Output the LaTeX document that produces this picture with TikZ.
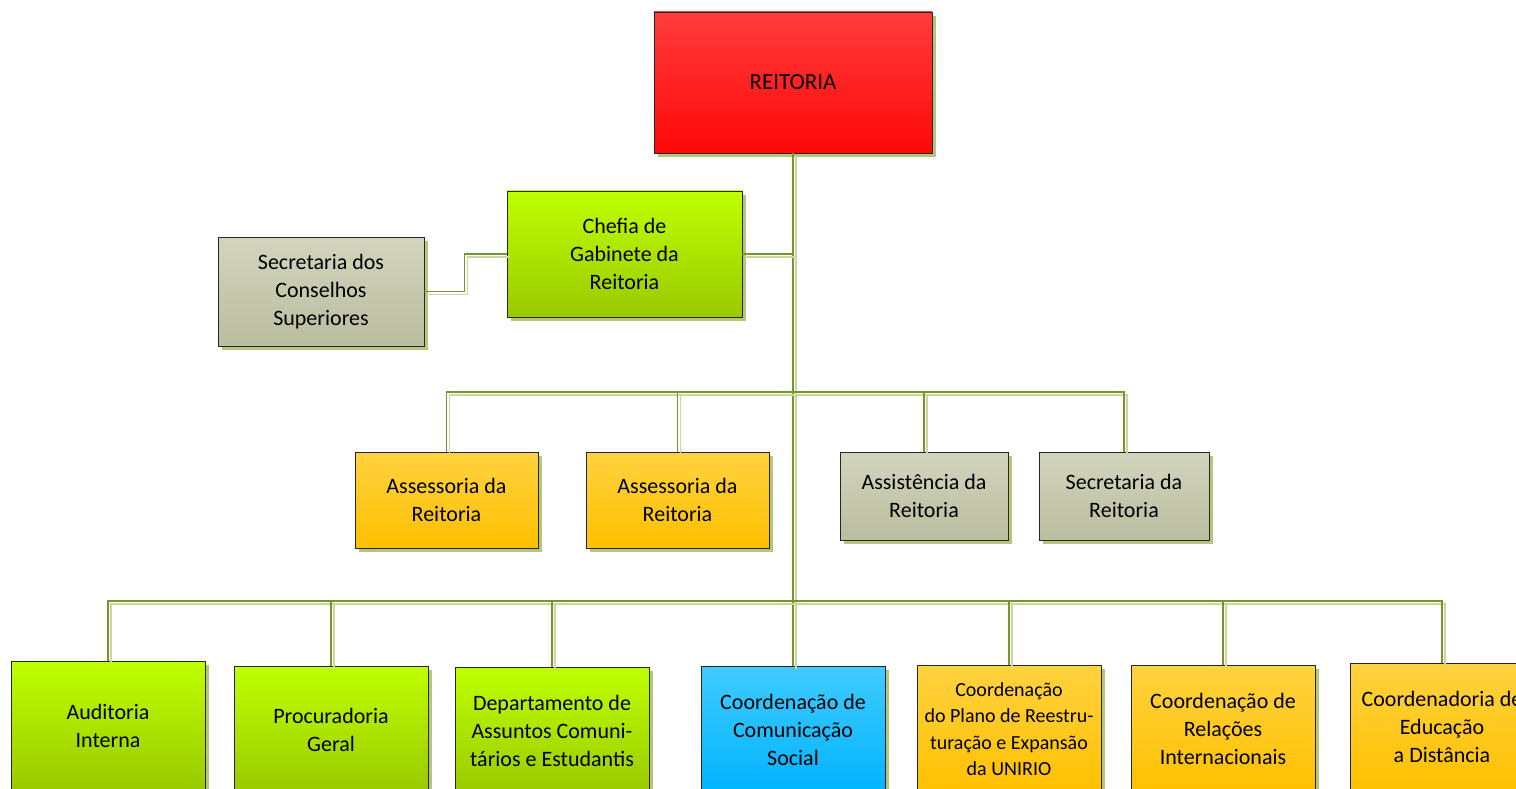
\documentclass[tikz,border=0pt]{standalone}
\usepackage{fontspec}
\setmainfont{Carlito}
\usetikzlibrary{shadows,calc}
\definecolor{redT}{HTML}{FF3C3C}
\definecolor{redB}{HTML}{FF0808}
\definecolor{limeT}{HTML}{BFFF00}
\definecolor{limeB}{HTML}{99C900}
\definecolor{goldT}{HTML}{FFD23F}
\definecolor{goldB}{HTML}{FFC000}
\definecolor{grayT}{HTML}{D2D4BE}
\definecolor{grayB}{HTML}{BBBD9F}
\definecolor{blueT}{HTML}{40CBFF}
\definecolor{blueB}{HTML}{00B3FF}
\definecolor{shadowc}{HTML}{B5C67C}
\definecolor{darkln}{HTML}{76962A}
\definecolor{lightln}{HTML}{C8D9A0}
\newcommand\dconn[1]{\draw[lightline, transform canvas={xshift=3pt,yshift=-3pt}] #1; \draw[darkline] #1;}
\begin{document}
\begin{tikzpicture}[x=1pt,y=-1pt,
  box/.style={rectangle, draw=black!85, line width=0.8pt, align=center,
    inner sep=0pt, font=\fontsize{22}{28}\selectfont,
    drop shadow={shadow xshift=4pt, shadow yshift=-4pt, fill=shadowc, opacity=1}},
  redbox/.style={box, top color=redT, bottom color=redB},
  limebox/.style={box, top color=limeT, bottom color=limeB},
  goldbox/.style={box, top color=goldT, bottom color=goldB},
  graybox/.style={box, top color=grayT, bottom color=grayB},
  bluebox/.style={box, top color=blueT, bottom color=blueB},
  darkline/.style={draw=darkln, line width=1.1pt},
  lightline/.style={draw=lightln, line width=1.6pt}]
\clip (0,0) rectangle (1516,789);
\fill[white] (0,0) rectangle (1516,789);
% top
\node[redbox, minimum width=278pt, minimum height=141pt, font=\fontsize{23}{28}\selectfont] (reit) at (793,82.5) {REITORIA};
\node[limebox, minimum width=235pt, minimum height=126pt] (chef) at (624.5,254) {Chefia de\\Gabinete da\\Reitoria};
\node[graybox, minimum width=206pt, minimum height=109pt] (cons) at (321,291.5) {Secretaria dos\\Conselhos\\Superiores};
% middle row
\node[goldbox, minimum width=183pt, minimum height=96pt] (ass1) at (446.5,500) {Assessoria da\\Reitoria};
\node[goldbox, minimum width=183pt, minimum height=96pt] (ass2) at (677.5,500) {Assessoria da\\Reitoria};
\node[graybox, minimum width=168pt, minimum height=88pt] (asst) at (924,496) {Assistência da\\Reitoria};
\node[graybox, minimum width=170pt, minimum height=88pt] (secr) at (1124,496) {Secretaria da\\Reitoria};
% bottom row
\node[limebox, minimum width=194pt, minimum height=130pt] (aud) at (108,726) {Auditoria\\Interna};
\node[limebox, minimum width=194pt, minimum height=128pt] (proc) at (331,730) {Procuradoria\\Geral};
\node[limebox, minimum width=194pt, minimum height=128pt] (dept) at (552,731) {Departamento de\\Assuntos Comuni-\\tários e Estudantis};
\node[bluebox, minimum width=184pt, minimum height=128pt] (comm) at (793,730) {Coordenação de\\Comunicação\\Social};
\node[goldbox, minimum width=184pt, minimum height=128pt, font=\fontsize{20}{26.3}\selectfont] (plano) at (1009,729) {Coordenação\\do Plano de Reestru-\\turação e Expansão\\da UNIRIO};
\node[goldbox, minimum width=184pt, minimum height=128pt] (rel) at (1223,729) {Coordenação de\\Relações\\Internacionais};
\node[goldbox, minimum width=184pt, minimum height=128pt] (ead) at (1442,727) {Coordenadoria de\\Educação\\a Distância};
% bus coordinates
\coordinate (mb) at (793,392);
\coordinate (bb) at (793,601);
% connectors
\dconn{(reit.south) -- (comm.north)}
\dconn{(chef.east) -- (chef.east -| reit.south)}
\dconn{(chef.west) -- ++(-42,0) |- (cons.east)}
\dconn{(ass1.north) -- (ass1.north |- mb) -- (secr.north |- mb) -- (secr.north)}
\dconn{(ass2.north) -- (ass2.north |- mb)}
\dconn{(asst.north) -- (asst.north |- mb)}
\dconn{(aud.north) -- (aud.north |- bb) -- (ead.north |- bb) -- (ead.north)}
\dconn{(proc.north) -- (proc.north |- bb)}
\dconn{(dept.north) -- (dept.north |- bb)}
\dconn{(plano.north) -- (plano.north |- bb)}
\dconn{(rel.north) -- (rel.north |- bb)}
\end{tikzpicture}
\end{document}
